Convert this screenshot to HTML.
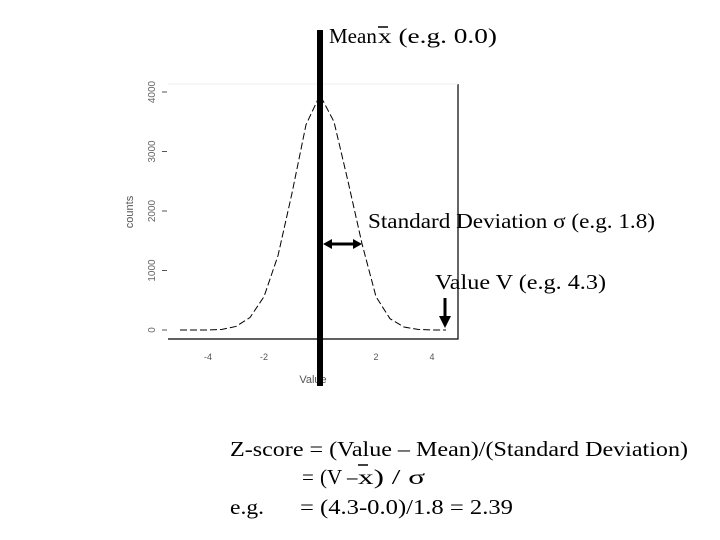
<!DOCTYPE html>
<html><head><meta charset="utf-8"><style>
html,body{margin:0;padding:0;background:#fff;}
svg{display:block;}
</style></head><body>
<svg id="chart" width="720" height="540" xmlns="http://www.w3.org/2000/svg" font-family="'Liberation Serif', serif">
<g id="plot"></g>
<text y="43" font-size="21"><tspan x="329">Mean</tspan><tspan x="378" textLength="119" lengthAdjust="spacingAndGlyphs">x (e.g. 0.0)</tspan></text>
<line x1="378" y1="27" x2="388" y2="27" stroke="#000" stroke-width="1.5"/>
<text x="368" y="228" font-size="21" textLength="287" lengthAdjust="spacingAndGlyphs">Standard Deviation σ (e.g. 1.8)</text>
<text x="435" y="289" font-size="21" textLength="171" lengthAdjust="spacingAndGlyphs">Value V (e.g. 4.3)</text>
<text x="230" y="456" font-size="21" textLength="458" lengthAdjust="spacingAndGlyphs">Z-score = (Value – Mean)/(Standard Deviation)</text>
<text y="484" font-size="21"><tspan x="302">=</tspan><tspan x="320">(V –</tspan><tspan x="358" textLength="67" lengthAdjust="spacingAndGlyphs">x) / σ</tspan></text>
<line x1="358" y1="465" x2="368" y2="465" stroke="#000" stroke-width="1.5"/>
<text x="230" y="514" font-size="21" textLength="34" lengthAdjust="spacingAndGlyphs">e.g.</text>
<text x="300" y="514" font-size="21" textLength="213" lengthAdjust="spacingAndGlyphs">= (4.3-0.0)/1.8 = 2.39</text>
</svg>
<script>
const xValues=[-5,-4.5,-4,-3.5,-3,-2.5,-2,-1.5,-1,-0.5,0,0.5,1,1.5,2,2.5,3,3.5,4,4.5];
const counts=[0,0,0,10,60,210,560,1250,2300,3450,3950,3500,2500,1450,560,190,50,10,0,0];
const xTicks=[-4,-2,0,2,4];
const xTickLabels=['-4','-2','0','2','4'];
const yTicks=[0,1000,2000,3000,4000];
const yTickLabels=['0','1000','2000','3000','4000'];
const meanValue=0;
const sdValue=1.5;
const markValue=4.5;

const sx=v=>320+v*28;
const sy=v=>330-v*0.0595;
const NS='http://www.w3.org/2000/svg';
const g=document.getElementById('plot');
function mk(tag,attrs){const e=document.createElementNS(NS,tag);for(const k in attrs)e.setAttribute(k,attrs[k]);g.appendChild(e);return e;}

let e=mk('polyline',{points:'168,339 458,339 458,84',fill:'none',stroke:'#000','stroke-width':1.2});


e=mk('line',{x1:168,y1:84,x2:458,y2:84,stroke:'#eee','stroke-width':1});



xTicks.forEach((t,i)=>{
  const el=mk('text',{x:sx(t),y:360,'font-size':9,fill:'#555','text-anchor':'middle','font-family':"'Liberation Sans', sans-serif"});
  el.textContent=xTickLabels[i];
  
  
});
yTicks.forEach((t,i)=>{
  const tk=mk('line',{x1:162,y1:sy(t),x2:167,y2:sy(t),stroke:'#555','stroke-width':1});
  
  
  const y=sy(t),x=155;
  const el=mk('text',{x:x,y:y,'font-size':10,fill:'#666','text-anchor':'middle',transform:`rotate(-90 ${x} ${y})`,'font-family':"'Liberation Sans', sans-serif"});
  el.textContent=yTickLabels[i];
  
  
});
e=mk('text',{x:133,y:212,'font-size':11,fill:'#555','text-anchor':'middle',transform:'rotate(-90 133 212)','font-family':"'Liberation Sans', sans-serif"});
e.textContent='counts';


e=mk('text',{x:313,y:383,'font-size':11,fill:'#555','text-anchor':'middle','font-family':"'Liberation Sans', sans-serif"});
e.textContent='Value';



const pts=xValues.map((v,i)=>sx(v)+','+sy(counts[i])).join(' ');
e=mk('polyline',{points:pts,fill:'none',stroke:'#000','stroke-width':1,'stroke-dasharray':'7,3'});



e=mk('line',{x1:sx(meanValue),y1:30,x2:sx(meanValue),y2:386,stroke:'#000','stroke-width':6});



const ay=244,ax1=sx(meanValue)+3,ax2=sx(sdValue);
e=mk('line',{x1:ax1+6,y1:ay,x2:ax2-6,y2:ay,stroke:'#000','stroke-width':3});


e=mk('polygon',{points:`${ax1},${ay} ${ax1+9},${ay-5} ${ax1+9},${ay+5}`,fill:'#000'});


e=mk('polygon',{points:`${ax2},${ay} ${ax2-9},${ay-5} ${ax2-9},${ay+5}`,fill:'#000'});



const vx=sx(markValue)-1;
e=mk('line',{x1:vx,y1:298,x2:vx,y2:318,stroke:'#000','stroke-width':3});


e=mk('polygon',{points:`${vx-6},316 ${vx+6},316 ${vx},328`,fill:'#000'});


</script>
</body></html>
